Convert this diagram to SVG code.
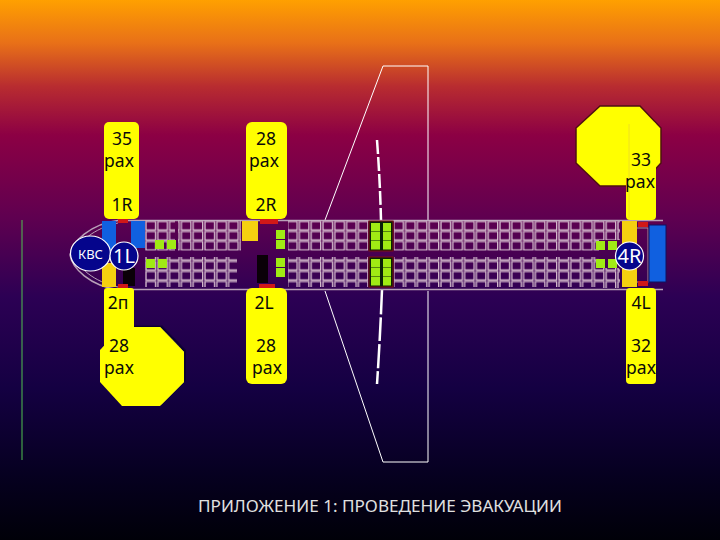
<svg xmlns="http://www.w3.org/2000/svg" width="720" height="540" viewBox="0 0 720 540">
<style>
.t{font-family:"Noto Sans","DejaVu Sans",sans-serif;font-size:17.500px;fill:#0a0a0a;text-anchor:middle}
.w{font-family:"Noto Sans","DejaVu Sans",sans-serif;fill:#fff;text-anchor:middle}
.box{fill:#ffff00}
.wing{fill:none;stroke:#fff;stroke-width:1}
.seat{fill:url(#seats)}
.g{fill:#a0ea14}
.y{fill:#f5d010}
.b{fill:#1060e0}
.r{fill:#d01818}
.circ{fill:#05058c;stroke:#fff;stroke-width:1.200}
</style>
<defs>
<linearGradient id="bg" x1="0" y1="0" x2="0" y2="1">
<stop offset="0" stop-color="#ffa000"/>
<stop offset="0.08" stop-color="#e87018"/>
<stop offset="0.16" stop-color="#b82c30"/>
<stop offset="0.25" stop-color="#8c0044"/>
<stop offset="0.40" stop-color="#600050"/>
<stop offset="0.55" stop-color="#2c0054"/>
<stop offset="0.72" stop-color="#140042"/>
<stop offset="0.88" stop-color="#060020"/>
<stop offset="1" stop-color="#000008"/>
</linearGradient>
<pattern id="seats" x="145" y="220.500" width="11.800" height="10" patternUnits="userSpaceOnUse">
<rect x="1" y="1" width="9.500" height="8.500" fill="none" stroke="#d8c0d0" stroke-width="1.300"/>
</pattern>
<filter id="sh" x="-10%" y="-10%" width="120%" height="120%"><feDropShadow dx="2" dy="-1.500" stdDeviation="0.500" flood-color="#100030"/></filter>
</defs>
<rect width="720" height="540" fill="url(#bg)"/>
<g id="connectors">
<path d="M22 220V460" stroke="#50c050" stroke-width="1" fill="none"/>
<path class="wing" d="M325 220L383 66H428V220"/>
<path class="wing" d="M325 291L383 462H428V291"/>
<path d="M377 140Q380 180 381 220" stroke="#fff" stroke-width="2.500" fill="none" stroke-dasharray="14 3"/>
<path d="M382 290Q380 340 377 384" stroke="#fff" stroke-width="2.500" fill="none" stroke-dasharray="24 3"/>
</g>
<g id="fuselage">
<path d="M663 220.500H118C90 224 72 242 70 255C72 268 90 286 118 289.500H663" fill="none" stroke="#b8a0b8" stroke-width="1.500"/>
<path d="M118 223C94 228 77 243 74 255C77 267 94 282 118 287" fill="none" stroke="#b8a0b8" stroke-width="1"/>
<rect class="seat" x="145" y="220.500" width="30" height="30"/>
<rect class="seat" x="178" y="220.500" width="63" height="30"/>
<rect class="seat" x="145" y="257" width="92" height="30"/>
<rect class="seat" x="288" y="220.500" width="80" height="30"/>
<rect class="seat" x="288" y="257" width="80" height="30"/>
<rect class="seat" x="394" y="220.500" width="205" height="30"/>
<rect class="seat" x="394" y="257" width="205" height="30"/>
<rect x="599" y="221" width="21" height="19" fill="url(#seats)"/>
<rect x="599" y="268" width="21" height="20" fill="url(#seats)"/>
<rect x="636" y="228" width="12" height="54" fill="none" stroke="#a89098" stroke-width="1"/>
</g>
<g id="cabin">
<rect class="b" x="102" y="221" width="14" height="34"/>
<rect class="b" x="131" y="221" width="14" height="27"/>
<rect class="y" x="102" y="263" width="14" height="24"/>
<rect x="123" y="268" width="12" height="18" fill="#0a0008"/>
<rect class="r" x="118" y="219" width="10" height="4"/>
<rect class="r" x="118" y="284" width="10" height="4"/>
<rect class="y" x="242" y="221" width="16" height="20"/>
<rect x="257" y="255" width="11" height="28" fill="#0a0008"/>
<rect class="r" x="260" y="219" width="18" height="5"/>
<rect class="r" x="259" y="284" width="16" height="4"/>
<rect class="g" x="155" y="240" width="9" height="9"/>
<rect class="g" x="167" y="240" width="9" height="9"/>
<rect class="g" x="146" y="259" width="9" height="9"/>
<rect class="g" x="158" y="259" width="9" height="9"/>
<rect class="g" x="276" y="230" width="9" height="9"/>
<rect class="g" x="276" y="240" width="9" height="9"/>
<rect class="g" x="276" y="258" width="9" height="9"/>
<rect class="g" x="276" y="268" width="9" height="9"/>
<rect x="369" y="221" width="24" height="30" fill="#0a2008" stroke="#801010"/>
<rect x="369" y="257" width="24" height="30" fill="#0a2008" stroke="#801010"/>
<g class="g">
<rect x="371" y="223" width="9" height="8.500"/><rect x="371" y="232" width="9" height="8.500"/><rect x="371" y="241" width="9" height="8.500"/>
<rect x="383" y="223" width="8" height="8.500"/><rect x="383" y="232" width="8" height="8.500"/><rect x="383" y="241" width="8" height="8.500"/>
<rect x="371" y="259" width="9" height="8.500"/><rect x="371" y="268" width="9" height="8.500"/><rect x="371" y="277" width="9" height="8.500"/>
<rect x="383" y="259" width="8" height="8.500"/><rect x="383" y="268" width="8" height="8.500"/><rect x="383" y="277" width="8" height="8.500"/>
</g>
<rect class="g" x="596" y="241" width="9" height="9"/>
<rect class="g" x="608" y="241" width="9" height="9"/>
<rect class="g" x="596" y="259" width="9" height="9"/>
<rect class="g" x="608" y="259" width="9" height="9"/>
<rect class="y" x="622" y="221" width="15" height="66"/>
<rect class="r" x="638" y="222" width="10" height="5"/>
<rect class="r" x="638" y="281" width="10" height="5"/>
<rect class="b" x="649" y="225" width="17" height="57" stroke="#101060"/>
</g>
<g id="slide-1R"><rect class="box" x="104" y="122" width="35" height="97" rx="5"/><text class="t" x="122" y="145">35</text><text class="t" x="119" y="167">pax</text><text class="t" x="122" y="211">1R</text></g>
<g id="slide-2R"><rect class="box" x="246" y="122" width="41" height="97" rx="6"/><text class="t" x="266" y="145">28</text><text class="t" x="264" y="167">pax</text><text class="t" x="266" y="211">2R</text></g>
<g id="slide-4R">
<polygon points="600,106 640,106 661,128 661,163 640,186 600,186 576,163 576,128" fill="#ffff00" stroke="#501010" stroke-width="1.500"/>
<rect class="box" x="626" y="122" width="30" height="98" rx="4"/>
<path d="M629 124V218" stroke="#f0e020" stroke-width="1"/>
<text class="t" x="641" y="166">33</text><text class="t" x="640" y="188">pax</text></g>
<g id="slide-2p">
<polygon points="160,327 184,352 184,382 160,406 122,406 100,382 100,350 122,327" fill="#ffff00" filter="url(#sh)"/>
<rect class="box" x="104" y="288" width="30" height="95" rx="3"/>
<text class="t" x="118" y="309">2п</text><text class="t" x="119" y="352">28</text><text class="t" x="119" y="374">pax</text></g>
<g id="slide-2L"><rect class="box" x="246" y="288" width="41" height="96" rx="6"/><text class="t" x="264" y="309">2L</text><text class="t" x="266" y="352">28</text><text class="t" x="267" y="374">pax</text></g>
<g id="slide-4L"><rect class="box" x="626" y="288" width="30" height="96" rx="4"/><text class="t" x="641" y="309">4L</text><text class="t" x="641" y="352">32</text><text class="t" x="641" y="374">pax</text></g>
<g id="kvc"><ellipse class="circ" cx="90.500" cy="253.500" rx="20" ry="17.500"/><text class="w" x="90.500" y="258.500" font-size="13">КВС</text></g>
<g id="door-1L"><circle class="circ" cx="124" cy="256" r="14"/><text class="w" x="124" y="263" font-size="20">1L</text></g>
<g id="door-4R"><circle class="circ" cx="629.500" cy="256" r="14"/><text class="w" x="629.500" y="263" font-size="20">4R</text></g>
<text x="380" y="512" font-family="'Noto Sans','DejaVu Sans',sans-serif" font-size="15.500" fill="#e0e0e0" text-anchor="middle" textLength="364" lengthAdjust="spacingAndGlyphs">ПРИЛОЖЕНИЕ 1: ПРОВЕДЕНИЕ ЭВАКУАЦИИ</text>
</svg>
